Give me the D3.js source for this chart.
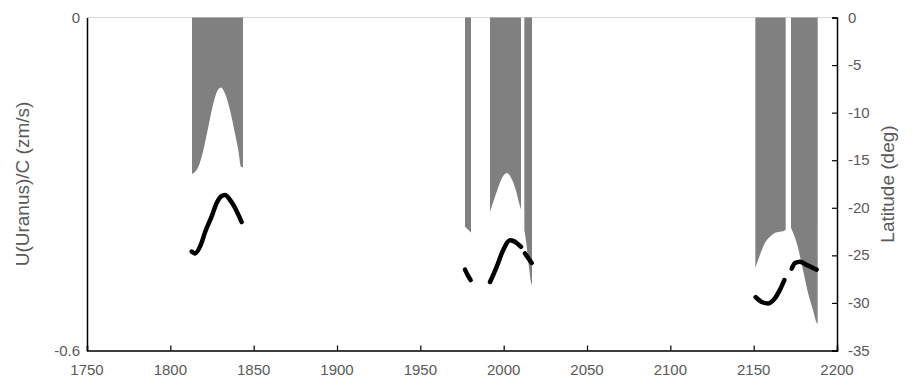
<!DOCTYPE html>
<html>
<head>
<meta charset="utf-8">
<script src="https://cdn.jsdelivr.net/npm/d3@7"></script>
<style>
  body { margin: 0; background: #fff; }
  svg text { font-family: "Liberation Sans Narrow", "Liberation Sans", sans-serif; fill: #595959; }
</style>
</head>
<body>
<div id="chart"></div>
<script>
// U(Uranus)/C bands, [year, value]
var uBand1 = [[1813, -0.282], [1816.8, -0.269], [1819.8, -0.239], [1822.8, -0.197], [1825.8, -0.155],
  [1828.4, -0.131], [1830.4, -0.126], [1832.8, -0.137], [1835.8, -0.167], [1838.8, -0.209],
  [1840.8, -0.239], [1842.4, -0.269], [1843.6, -0.270]];
var uBand2 = [[1976.8, -0.377], [1978.6, -0.382], [1980.4, -0.388]];
var uBand3 = [[1991.8, -0.350], [1994, -0.330], [1996.5, -0.308], [1999, -0.289], [2001.8, -0.280],
  [2004.5, -0.289], [2007, -0.308], [2009.8, -0.340], [2010.4, -0.346]];
var uBand4 = [[2012.4, -0.383], [2013.5, -0.405], [2015, -0.445], [2016.5, -0.478], [2017, -0.482]];
var uBand5 = [[2151, -0.451], [2153.5, -0.430], [2156.8, -0.406], [2159.8, -0.395], [2162.8, -0.388],
  [2165.5, -0.386], [2167.6, -0.385], [2169.2, -0.383]];
var uBand6 = [[2172.4, -0.379], [2175.8, -0.406], [2179.6, -0.455], [2182.6, -0.496], [2185.6, -0.527],
  [2187.8, -0.550], [2188.4, -0.552]];

// latitude tracks, [year, deg]
var lat1 = [[1812.8, -24.6], [1814.8, -24.8], [1818, -24.0], [1821, -22.5], [1824.8, -20.9],
  [1827.8, -19.5], [1830.5, -18.8], [1832.8, -18.66], [1835.5, -19.1], [1837.8, -19.7], [1842.8, -21.5]];
var lat2 = [[1976.8, -26.5], [1978.5, -27.1], [1980.2, -27.6]];
var lat3 = [[1991.8, -27.8], [1995.8, -26.2], [1999.8, -24.4], [2003.8, -23.4], [2006, -23.5],
  [2007.8, -23.7], [2010.4, -24.1]];
var lat4 = [[2012.8, -24.8], [2014.8, -25.3], [2016.8, -25.8]];
var lat5 = [[2151.2, -29.4], [2154.8, -29.9], [2158.8, -30.05], [2162.8, -29.5], [2165.8, -28.6],
  [2168.4, -27.6]];
var lat6 = [[2172.8, -26.4], [2174.8, -25.8], [2177.8, -25.66], [2181.8, -26.0], [2187.8, -26.5]];

var xTicks = [1750, 1800, 1850, 1900, 1950, 2000, 2050, 2100, 2150, 2200];
var uTicks = [0, -0.6];
var latTicks = [0, -5, -10, -15, -20, -25, -30, -35];

var W = 916, H = 387;
var m = { left: 87, right: 79, top: 17.5, bottom: 36.5 };

var svg = d3.select("#chart").append("svg")
  .attr("width", W)
  .attr("height", H);

var x = d3.scaleLinear().domain([1750, 2200]).range([m.left, W - m.right]);
var yU = d3.scaleLinear().domain([-0.6, 0]).range([H - m.bottom, m.top]);
var yLat = d3.scaleLinear().domain([-35, 0]).range([H - m.bottom, m.top]);

// top gridline
svg.append("line")
  .attr("x1", x(1750)).attr("x2", x(2200))
  .attr("y1", yU(0)).attr("y2", yU(0))
  .attr("stroke", "#d9d9d9").attr("stroke-width", 1);

var area = d3.area()
  .x(function (d) { return x(d[0]); })
  .y0(yU(0))
  .y1(function (d) { return yU(d[1]); })
  .curve(d3.curveMonotoneX);

[uBand1, uBand2, uBand3, uBand4, uBand5, uBand6].forEach(function (b) {
  svg.append("path").datum(b)
    .attr("d", area)
    .attr("fill", "#808080");
});

var line = d3.line()
  .x(function (d) { return x(d[0]); })
  .y(function (d) { return yLat(d[1]); })
  .curve(d3.curveMonotoneX);

[lat1, lat2, lat3, lat4, lat5, lat6].forEach(function (s) {
  svg.append("path").datum(s)
    .attr("d", line)
    .attr("fill", "none")
    .attr("stroke", "#000")
    .attr("stroke-width", 4.5)
    .attr("stroke-linecap", "round")
    .attr("stroke-linejoin", "round");
});

// axes
var xAxis = svg.append("g")
  .attr("transform", "translate(0," + (H - m.bottom) + ")")
  .call(d3.axisTop(x).tickValues(xTicks).tickSize(5).tickFormat(""));
var leftAxis = svg.append("g")
  .attr("transform", "translate(" + m.left + ",0)")
  .call(d3.axisLeft(yU).tickValues(uTicks).tickSize(0).tickFormat(""));
var rightAxis = svg.append("g")
  .attr("transform", "translate(" + (W - m.right) + ",0)")
  .call(d3.axisLeft(yLat).tickValues(latTicks).tickSize(5).tickFormat(""));

svg.selectAll(".domain").attr("stroke", "#000").attr("stroke-width", 1.5);
svg.selectAll(".tick line").attr("stroke", "#000").attr("stroke-width", 1.2);

// tick labels
svg.append("g").selectAll("text")
  .data(xTicks).enter().append("text")
  .attr("x", function (d) { return x(d); })
  .attr("y", H - m.bottom + 24)
  .attr("text-anchor", "middle")
  .style("font-size", "15px")
  .text(function (d) { return d; });

svg.append("g").selectAll("text")
  .data(uTicks).enter().append("text")
  .attr("x", m.left - 7)
  .attr("y", function (d) { return yU(d) + 5; })
  .attr("text-anchor", "end")
  .style("font-size", "15px")
  .text(function (d) { return d; });

svg.append("g").selectAll("text")
  .data(latTicks).enter().append("text")
  .attr("x", W - m.right + 11)
  .attr("y", function (d) { return yLat(d) + 5; })
  .attr("text-anchor", "start")
  .style("font-size", "15px")
  .text(function (d) { return d; });

// axis titles
var cy = (m.top + H - m.bottom) / 2;
svg.append("text")
  .attr("transform", "translate(29," + cy + ") rotate(-90)")
  .attr("text-anchor", "middle")
  .style("font-size", "19px")
  .text("U(Uranus)/C (zm/s)");

svg.append("text")
  .attr("transform", "translate(894," + cy + ") rotate(-90)")
  .attr("text-anchor", "middle")
  .style("font-size", "19px")
  .text("Latitude (deg)");
</script>
</body>
</html>
